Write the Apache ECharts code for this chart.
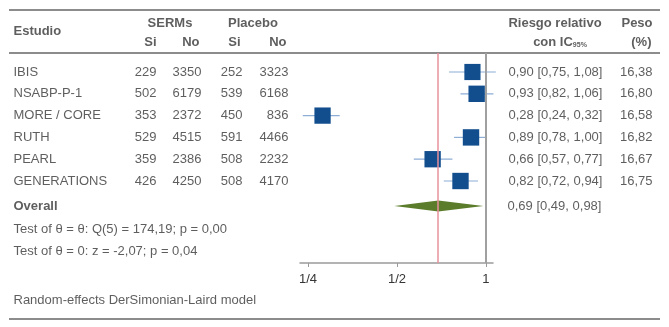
<!DOCTYPE html>
<html>
<head>
<meta charset="utf-8">
<script src="https://cdn.jsdelivr.net/npm/echarts@6/dist/echarts.min.js"></script>
<style>
  html, body { margin: 0; padding: 0; background: #fff; }
  #chart { width: 669px; height: 327px; }
</style>
</head>
<body>
<div id="chart"></div>
<script>
// data
const studies = ["IBIS", "NSABP-P-1", "MORE / CORE", "RUTH", "PEARL", "GENERATIONS"];
const sermSi = [229, 502, 353, 529, 359, 426];
const sermNo = [3350, 6179, 2372, 4515, 2386, 4250];
const placeboSi = [252, 539, 450, 591, 508, 508];
const placeboNo = [3323, 6168, 836, 4466, 2232, 4170];
const rr = [0.90, 0.93, 0.28, 0.89, 0.66, 0.82];
const ciLow = [0.75, 0.82, 0.24, 0.78, 0.57, 0.72];
const ciHigh = [1.08, 1.06, 0.32, 1.00, 0.77, 0.94];
const peso = [16.38, 16.80, 16.58, 16.82, 16.67, 16.75];
const overallRR = [0.69];
const overallLow = [0.49];
const overallHigh = [0.98];
const tickValues = [0.25, 0.5, 1];
const tickLabels = ["1/4", "1/2", "1"];
const testLines = [
  "Test of \u03b8 = \u03b8: Q(5) = 174,19; p = 0,00",
  "Test of \u03b8 = 0: z = -2,07; p = 0,04"
];
const footNote = "Random-effects DerSimonian-Laird model";

// layout (row index units)
const ROW_OVERALL = 6.15;
const ROW_TEST = [7.2, 8.21];
const ROW_FOOT = 10.46;
const ROW_H1 = -2.22, ROW_H2 = -1.36, ROW_HEAD = -1.86;
const FONT = "'Liberation Sans', Arial, sans-serif";
const TXT = "#363636";

const fmt = (v) => v.toFixed(2).replace(".", ",");
const log2 = (v) => Math.log2(v);

const chart = echarts.init(document.getElementById("chart"));

function textSeries(items, align, bold, extra) {
  // items: [x, row, text]
  let pos = "right";
  if (align === "right") pos = "left";
  if (align === "center") pos = "inside";
  return Object.assign({
    type: "scatter",
    xAxisIndex: 1,
    yAxisIndex: 1,
    silent: true,
    symbolSize: 1,
    itemStyle: { color: "rgba(0,0,0,0)" },
    data: items,
    label: {
      show: true,
      position: pos,
      distance: 0,
      color: TXT,
      fontFamily: FONT,
      fontSize: 13,
      fontWeight: bold ? "bold" : "normal",
      formatter: (p) => p.value[2]
    }
  }, extra || {});
}

const rowsIdx = studies.map((s, i) => i);

const series = [
  // table text
  textSeries(studies.map((s, i) => [13, i, s]), "left"),
  textSeries(sermSi.map((v, i) => [157, i, String(v)]), "right"),
  textSeries(sermNo.map((v, i) => [202, i, String(v)]), "right"),
  textSeries(placeboSi.map((v, i) => [243, i, String(v)]), "right"),
  textSeries(placeboNo.map((v, i) => [289, i, String(v)]), "right"),
  textSeries(rr.map((v, i) => [508, i, fmt(v) + " [" + fmt(ciLow[i]) + ", " + fmt(ciHigh[i]) + "]"]), "left"),
  textSeries(peso.map((v, i) => [653, i, fmt(v)]), "right"),
  textSeries([[507, ROW_OVERALL, fmt(overallRR[0]) + " [" + fmt(overallLow[0]) + ", " + fmt(overallHigh[0]) + "]"]], "left"),
  textSeries(testLines.map((t, i) => [13, ROW_TEST[i], t]), "left"),
  textSeries([[13, ROW_FOOT, footNote]], "left"),
  // headers
  textSeries([[13, ROW_HEAD, "Estudio"], [13, ROW_OVERALL, "Overall"]], "left", true),
  textSeries([[170, ROW_H1, "SERMs"], [253, ROW_H1, "Placebo"], [555, ROW_H1, "Riesgo relativo"], [637, ROW_H1, "Peso"]], "center", true),
  textSeries([[157, ROW_H2, "Si"], [200, ROW_H2, "No"], [241, ROW_H2, "Si"], [287, ROW_H2, "No"]], "right", true),
  textSeries([[652, ROW_H2, "(%)"]], "right", true),
  textSeries([[560, ROW_H2, "con IC95%"]], "center", true, {
    label: {
      show: true, position: "inside", color: TXT, fontFamily: FONT,
      formatter: () => "{a|con IC}{s|95%}",
      rich: {
        a: { fontSize: 13, fontWeight: "bold", fontFamily: FONT, color: TXT },
        s: { fontSize: 7, fontWeight: "bold", fontFamily: FONT, color: TXT, verticalAlign: "bottom", padding: [5, 0, 0, 0] }
      }
    }
  }),
  // rules
  {
    type: "scatter", xAxisIndex: 1, yAxisIndex: 1, silent: true, data: [],
    markLine: {
      silent: true, symbol: "none", label: { show: false },
      lineStyle: { color: "#8c8c8c", width: 2, type: "solid" },
      data: [
        [{ coord: [9, -2.844] }, { coord: [660, -2.844] }],
        [{ coord: [9, -0.872] }, { coord: [660, -0.872] }],
        [{ coord: [9, 11.33] }, { coord: [660, 11.33] }]
      ]
    }
  },
  // line of no effect
  {
    type: "scatter", xAxisIndex: 0, yAxisIndex: 0, silent: true, data: [], z: 1,
    markLine: {
      silent: true, symbol: "none", label: { show: false },
      lineStyle: { color: "#a0a0a0", width: 2, type: "solid" },
      data: [{ xAxis: 0 }]
    }
  },
  // confidence intervals
  {
    type: "custom", xAxisIndex: 0, yAxisIndex: 0, silent: true, z: 2,
    data: rowsIdx.map((i) => [log2(ciLow[i]), log2(ciHigh[i]), i]),
    renderItem: (params, api) => {
      const a = api.coord([api.value(0), api.value(2)]);
      const b = api.coord([api.value(1), api.value(2)]);
      return {
        type: "line",
        shape: { x1: a[0], y1: a[1], x2: b[0], y2: b[1] },
        style: { stroke: "#8eaed6", lineWidth: 1.2 }
      };
    }
  },
  // study estimates
  {
    type: "scatter", xAxisIndex: 0, yAxisIndex: 0, silent: true, z: 3,
    symbol: "rect",
    data: rowsIdx.map((i) => [log2(rr[i]), i, peso[i]]),
    symbolSize: (v) => 16.4 * Math.sqrt(v[2] / 16.82),
    itemStyle: { color: "#124e8e", opacity: 1 }
  },
  // overall diamond
  {
    type: "custom", xAxisIndex: 0, yAxisIndex: 0, silent: true, z: 3,
    data: overallRR.map((v, i) => [log2(overallLow[i]), log2(v), log2(overallHigh[i]), ROW_OVERALL]),
    renderItem: (params, api) => {
      const l = api.coord([api.value(0), api.value(3)]);
      const m = api.coord([api.value(1), api.value(3)]);
      const r = api.coord([api.value(2), api.value(3)]);
      const h = 5.5;
      return {
        type: "polygon",
        shape: { points: [[l[0], l[1]], [m[0], m[1] - h], [r[0], r[1]], [m[0], m[1] + h]] },
        style: { fill: "#5b7c2a" }
      };
    }
  },
  // overall estimate line
  {
    type: "scatter", xAxisIndex: 0, yAxisIndex: 0, silent: true, data: [], z: 4,
    markLine: {
      silent: true, symbol: "none", label: { show: false },
      lineStyle: { color: "#e8909c", width: 1.5, type: "solid" },
      data: [{ xAxis: log2(overallRR[0]) }]
    }
  }
];

const option = {
  animation: false,
  backgroundColor: "#fff",
  textStyle: { fontFamily: FONT },
  grid: [
    { left: 300, width: 193, top: 53, height: 210, containLabel: false },
    { left: 0, right: 0, top: 0, bottom: 0, containLabel: false }
  ],
  xAxis: [
    {
      gridIndex: 0, type: "value", min: -2.09, max: 0.079, position: "bottom",
      axisLine: { show: true, onZero: false, lineStyle: { color: "#9a9a9a", width: 1.5 } },
      axisTick: { show: true, length: 4, customValues: tickValues.map(log2), lineStyle: { color: "#9a9a9a" } },
      axisLabel: {
        show: true, customValues: tickValues.map(log2), margin: 10,
        color: TXT, fontSize: 13, fontFamily: FONT,
        formatter: (v) => {
          const k = tickValues.findIndex((t) => Math.abs(log2(t) - v) < 1e-6);
          return k >= 0 ? tickLabels[k] : "";
        }
      },
      splitLine: { show: false }
    },
    { gridIndex: 1, type: "value", min: 0, max: 669, show: false }
  ],
  yAxis: [
    { gridIndex: 0, type: "value", inverse: true, min: -0.8716, max: 8.761, show: false },
    { gridIndex: 1, type: "value", inverse: true, min: -3.3028, max: 11.697, show: false }
  ],
  series: series
};

chart.setOption(option);
</script>
</body>
</html>
